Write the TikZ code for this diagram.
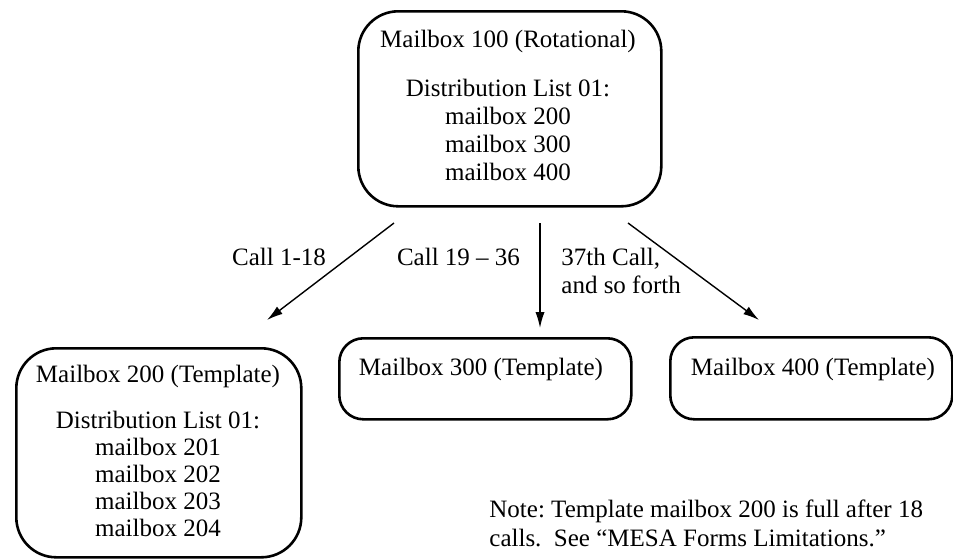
\documentclass[tikz,border=0pt]{standalone}
\usepackage{fontspec}
\setmainfont{Liberation Serif}
\usetikzlibrary{arrows.meta}
\frenchspacing
\begin{document}
\begin{tikzpicture}[x=0.5pt,y=-0.5pt,
  every node/.style={font=\fontsize{12.5}{13}\selectfont, inner sep=0pt},
  mbox/.style={draw, line width=1.3pt, rounded corners=#1, anchor=north west},
  txt/.style={anchor=base},
  ltxt/.style={anchor=base west},
  flow/.style={line width=0.7pt, -{Latex[length=8pt,width=4.6pt]}}]
\useasboundingbox (0,0) rectangle (953,558);

% top rotational mailbox
\node[mbox=20pt, minimum width=151.5pt, minimum height=97.5pt] (top) at (357,10) {};
\node[txt] (topT) at (508,47) {Mailbox 100 (Rotational)};
\node[txt] (topD) at (508,96) {Distribution List 01:};
\node[txt] (topA) at (508,124) {mailbox 200};
\node[txt] (topB) at (508,152) {mailbox 300};
\node[txt] (topC) at (508,180) {mailbox 400};

% template mailboxes
\node[mbox=20pt, minimum width=142.5pt, minimum height=104.5pt] (m200) at (15,347) {};
\node[txt] (m200T) at (158,382) {Mailbox 200 (Template)};
\node[txt] (m200D) at (158,428) {Distribution List 01:};
\node[txt] (m200A) at (158,455) {mailbox 201};
\node[txt] (m200B) at (158,482) {mailbox 202};
\node[txt] (m200C) at (158,509) {mailbox 203};
\node[txt] (m200E) at (158,536) {mailbox 204};

\node[mbox=12pt, minimum width=146pt, minimum height=40.5pt] (m300) at (338,337) {};
\node[txt] (m300T) at (481,375) {Mailbox 300 (Template)};

\node[mbox=12pt, minimum width=141pt, minimum height=41pt] (m400) at (669,336) {};
\node[txt] (m400T) at (813,375) {Mailbox 400 (Template)};

% call distribution arrows
\coordinate (a1s) at (394,223); \coordinate (a1e) at (267,320);
\coordinate (a2s) at (540,223); \coordinate (a2e) at (540,328);
\coordinate (a3s) at (628,223); \coordinate (a3e) at (759,320);
\draw[flow] (a1s) -- (a1e);
\draw[flow] (a2s) -- (a2e);
\draw[flow] (a3s) -- (a3e);

\node[txt] (l1) at (279,265) {Call 1-18};
\node[txt] (l2) at (458.5,265) {Call 19 -- 36};
\node[ltxt] (l3a) at (561,265) {37th Call,};
\node[ltxt] (l3b) at (561,293) {and so forth};

% note
\node[ltxt] (n1) at (489,517) {Note: Template mailbox 200 is full after 18};
\node[ltxt] (n2) at (489,546) {calls.\ \ See “MESA Forms Limitations.”};
\end{tikzpicture}
\end{document}
